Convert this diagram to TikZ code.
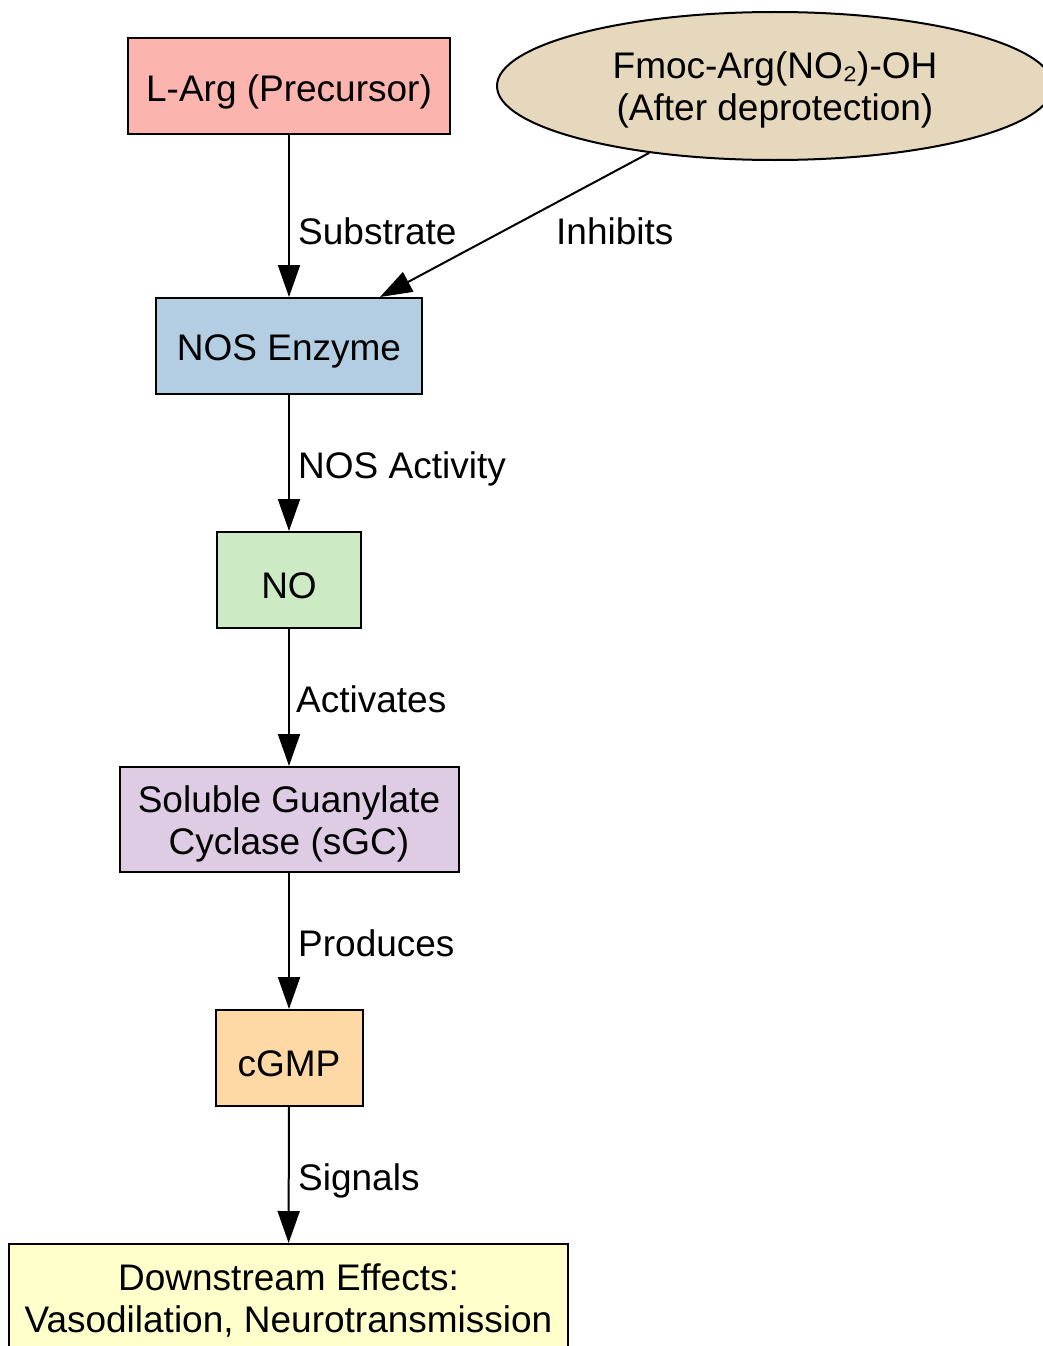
\documentclass[tikz,border=0pt]{standalone}
\usepackage{fontspec}
\setmainfont{Liberation Sans}
\usetikzlibrary{shapes.geometric,arrows.meta}
\definecolor{cLarg}{HTML}{FBB4AE}
\definecolor{cFmoc}{HTML}{E5D8BD}
\definecolor{cNos}{HTML}{B3CDE3}
\definecolor{cNo}{HTML}{CCEBC5}
\definecolor{cSgc}{HTML}{DECBE4}
\definecolor{cCgmp}{HTML}{FED9A6}
\definecolor{cDown}{HTML}{FFFFCC}
\begin{document}
\begin{tikzpicture}[x=1pt,y=1pt,
  box/.style={draw=black, line width=2pt, rectangle, inner sep=0pt},
  oval/.style={draw=black, line width=2pt, ellipse, inner sep=0pt},
  txt/.style={inner sep=0pt, align=center, font=\fontsize{37}{42}\selectfont},
  one/.style={label={[txt, yshift=-5.5pt]center:#1}},
  two/.style={label={[txt, yshift=-4pt]center:#1}},
  conn/.style={line width=2pt, -{Triangle[length=32pt,width=22pt]}},
  lbl/.style={anchor=base west, font=\fontsize{37}{42}\selectfont, inner sep=0pt}]
\useasboundingbox (0,0) rectangle (1043,-1346);
\node[box, fill=cLarg, minimum width=322, minimum height=96, one={L-Arg (Precursor)}] (larg) at (289,-86) {};
\node[oval, fill=cFmoc, minimum width=556, minimum height=148, two={Fmoc-Arg(NO₂)-OH\\(After deprotection)}] (fmoc) at (775,-86) {};
\node[box, fill=cNos, minimum width=266, minimum height=96, one={NOS Enzyme}] (nos) at (289,-346) {};
\node[box, fill=cNo, minimum width=144, minimum height=96, one={NO}] (no) at (289,-580) {};
\node[box, fill=cSgc, minimum width=339, minimum height=105, two={Soluble Guanylate\\Cyclase (sGC)}] (sgc) at (289,-819.5) {};
\node[box, fill=cCgmp, minimum width=147, minimum height=96, one={cGMP}] (cgmp) at (289,-1058) {};
\node[box, fill=cDown, minimum width=559, minimum height=105, two={Downstream Effects:\\Vasodilation, Neurotransmission}] (down) at (288.5,-1296.5) {};
\draw[conn] (larg) -- (nos);
\draw[conn] (fmoc.208.7) -- ([xshift=-43pt]nos.north east);
\draw[conn] (nos) -- (no);
\draw[conn] (no) -- (sgc);
\draw[conn] (sgc) -- (cgmp);
\draw[conn] (cgmp) -- (down);
\node[lbl] (lsub) at (298,-244) {Substrate};
\node[lbl] (linh) at (556,-244) {Inhibits};
\node[lbl] (lnos) at (298,-478) {NOS Activity};
\node[lbl] (lact) at (296,-712) {Activates};
\node[lbl] (lpro) at (298,-956) {Produces};
\node[lbl] (lsig) at (298,-1190) {Signals};
\end{tikzpicture}
\end{document}
